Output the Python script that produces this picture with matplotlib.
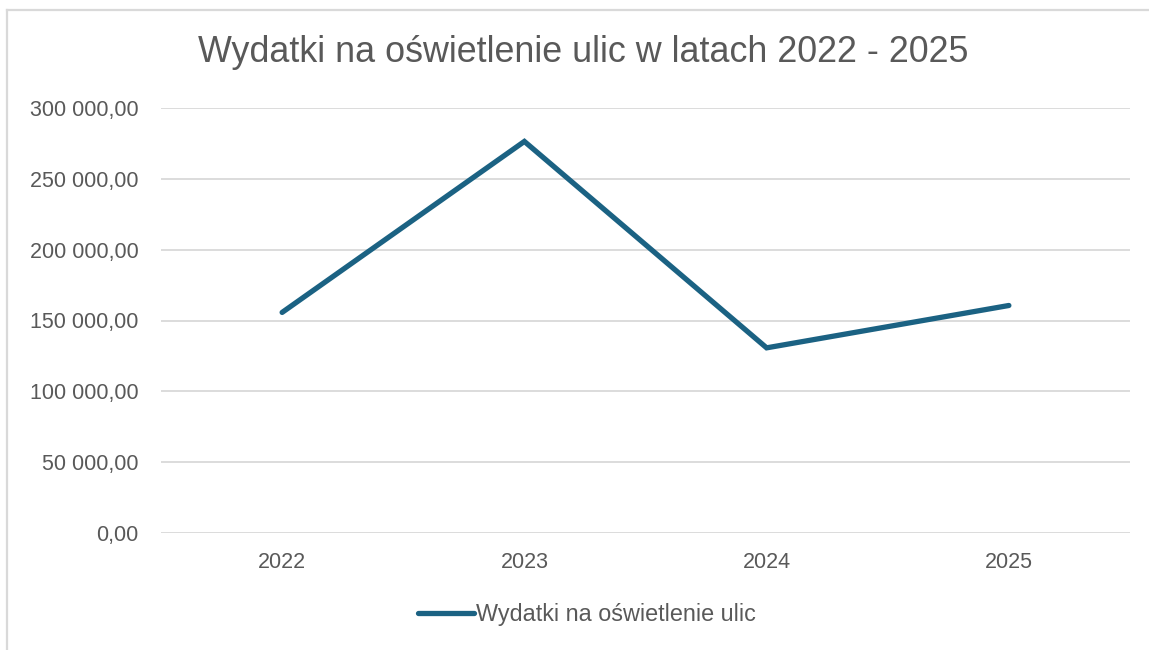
import matplotlib.pyplot as plt
from matplotlib.lines import Line2D
from matplotlib.ticker import FuncFormatter, MultipleLocator

years = ["2022", "2023", "2024", "2025"]
wydatki = [155700, 276400, 130700, 160600]

plt.rcParams['font.family'] = ['Liberation Sans', 'DejaVu Sans']
txt = "#595959"
grid = "#d9d9d9"
line_c = "#1b6283"

fig = plt.figure(figsize=(11.49, 6.5), dpi=100)
ax = fig.add_axes([161/1149, 1 - 533/650, (1130 - 161)/1149, (533 - 108)/650])

x = range(len(years))
ax.plot(x, wydatki, color=line_c, lw=3.8, solid_capstyle='round',
        solid_joinstyle='miter', label="Wydatki na oświetlenie ulic", zorder=3)

ax.set_xlim(-0.5, len(years) - 0.5)
ax.set_ylim(0, 300000)
ax.yaxis.set_major_locator(MultipleLocator(50000))
ax.yaxis.set_major_formatter(FuncFormatter(
    lambda v, p: f"{v:,.2f}".replace(",", " ").replace(".", ",")))
ax.set_xticks(list(x))
ax.set_xticklabels(years)

ax.grid(axis='y', color=grid, lw=1.3)
ax.set_axisbelow(True)
for s in ax.spines.values():
    s.set_visible(False)
ax.tick_params(length=0, labelsize=15.5, labelcolor=txt)
ax.tick_params(axis='y', pad=16)
ax.tick_params(axis='x', pad=14)

fig.text(583/1149, 1 - 52/650, "Wydatki na oświetlenie ulic w latach 2022 - 2025",
         ha='center', va='center', fontsize=25.8, color=txt)

ax.legend(loc='center', bbox_to_anchor=(587/1149, 1 - 615/650),
          bbox_transform=fig.transFigure, frameon=False, fontsize=16.8,
          labelcolor=txt, handlelength=2.4, handletextpad=0.12)

# chart area border (partly cut off in the reference)
fig.add_artist(Line2D([7/1149, 1.01], [1 - 10/650] * 2, color=grid, lw=1.6,
                      transform=fig.transFigure))
fig.add_artist(Line2D([7/1149] * 2, [-0.01, 1 - 10/650], color=grid, lw=1.6,
                      transform=fig.transFigure))

fig.savefig("out.png", dpi=100)
